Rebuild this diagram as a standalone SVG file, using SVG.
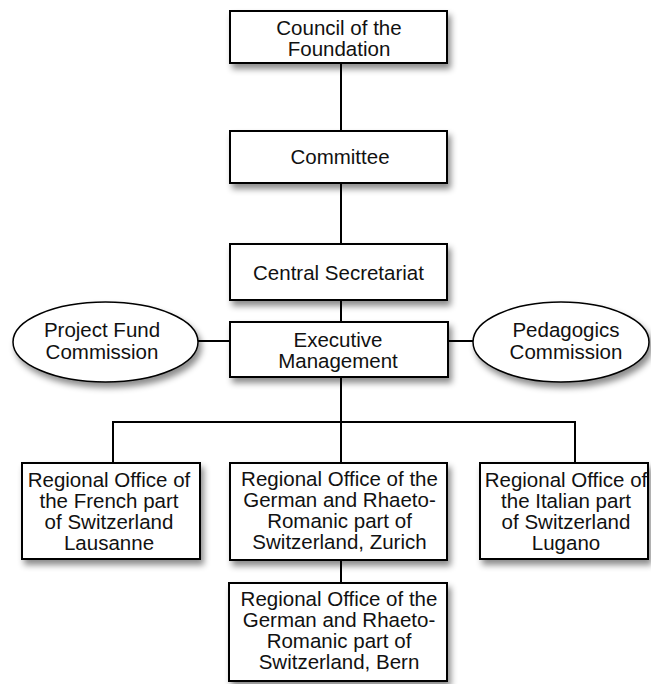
<svg xmlns="http://www.w3.org/2000/svg" width="651" height="684" viewBox="0 0 651 684">
<defs>
<filter id="sh" x="-10%" y="-10%" width="125%" height="135%">
<feDropShadow dx="3" dy="5" stdDeviation="3" flood-color="#000" flood-opacity="0.45"/>
</filter>
</defs>
<style>
.box{fill:#fff;stroke:#000;stroke-width:2;filter:url(#sh)}
.ell{fill:#fff;stroke:#000;stroke-width:1.5;filter:url(#sh)}
.ln{stroke:#000;stroke-width:2;fill:none}
text{font-family:"Liberation Sans",Arial,Helvetica,sans-serif;font-size:20.5px;fill:#111;text-anchor:middle}
</style>
<rect width="651" height="684" fill="#fff"/>
<g id="connectors">
<line class="ln" x1="341" y1="63" x2="341" y2="131"/>
<line class="ln" x1="341" y1="183" x2="341" y2="244"/>
<line class="ln" x1="341" y1="300" x2="341" y2="322"/>
<line class="ln" x1="198" y1="341" x2="230" y2="341"/>
<line class="ln" x1="448" y1="341" x2="473" y2="341"/>
<line class="ln" x1="341" y1="377" x2="341" y2="463"/>
<polyline class="ln" points="113,463 113,422 575,422 575,463"/>
<line class="ln" x1="341" y1="560" x2="341" y2="583"/>
</g>
<g id="council">
<rect class="box" x="230" y="11" width="217" height="52"/>
<text x="339" y="35">Council of the</text>
<text x="339" y="56">Foundation</text>
</g>
<g id="committee">
<rect class="box" x="230" y="131" width="217" height="52"/>
<text x="340" y="164">Committee</text>
</g>
<g id="central-secretariat">
<rect class="box" x="230" y="244" width="217" height="56"/>
<text x="338.5" y="280">Central Secretariat</text>
</g>
<g id="executive-management">
<rect class="box" x="230" y="322" width="218" height="55"/>
<text x="338" y="347">Executive</text>
<text x="338" y="368">Management</text>
</g>
<g id="project-fund-commission">
<ellipse class="ell" cx="105.5" cy="342" rx="92.5" ry="40"/>
<text x="102" y="337">Project Fund</text>
<text x="102" y="359">Commission</text>
</g>
<g id="pedagogics-commission">
<ellipse class="ell" cx="561" cy="342" rx="88" ry="40"/>
<text x="566" y="337">Pedagogics</text>
<text x="566" y="359">Commission</text>
</g>
<g id="office-french">
<rect class="box" x="22" y="463" width="178" height="96"/>
<text x="109" y="487">Regional Office of</text>
<text x="109" y="508">the French part</text>
<text x="109" y="529">of Switzerland</text>
<text x="109" y="550">Lausanne</text>
</g>
<g id="office-german-zurich">
<rect class="box" x="230" y="463" width="217" height="97"/>
<text x="339.5" y="486">Regional Office of the</text>
<text x="339.5" y="507">German and Rhaeto-</text>
<text x="339.5" y="528">Romanic part of</text>
<text x="339.5" y="549">Switzerland, Zurich</text>
</g>
<g id="office-italian">
<rect class="box" x="480" y="463" width="168" height="96"/>
<text x="566" y="487">Regional Office of</text>
<text x="566" y="508">the Italian part</text>
<text x="566" y="529">of Switzerland</text>
<text x="566" y="550">Lugano</text>
</g>
<g id="office-german-bern">
<rect class="box" x="229" y="583" width="218" height="98"/>
<text x="339" y="606">Regional Office of the</text>
<text x="339" y="627">German and Rhaeto-</text>
<text x="339" y="648">Romanic part of</text>
<text x="339" y="669">Switzerland, Bern</text>
</g>
</svg>
